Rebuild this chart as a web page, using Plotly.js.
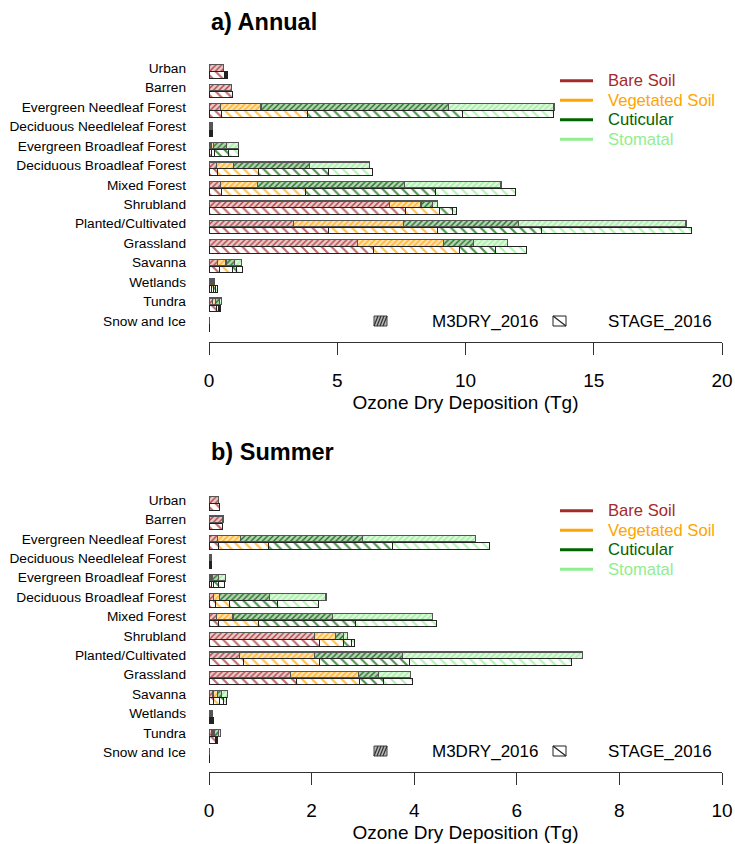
<!DOCTYPE html>
<html>
<head>
<meta charset="utf-8">
<script src="https://cdn.plot.ly/plotly-3.0.1.min.js"></script>
<style>
  body { margin: 0; background: #fff; }
  #chart { width: 735px; height: 844px; }
</style>
</head>
<body>
<div id="chart"></div>
<script>
var categories = ["Urban", "Barren", "Evergreen Needleaf Forest", "Deciduous Needleleaf Forest",
  "Evergreen Broadleaf Forest", "Deciduous Broadleaf Forest", "Mixed Forest", "Shrubland",
  "Planted/Cultivated", "Grassland", "Savanna", "Wetlands", "Tundra", "Snow and Ice"];
var components = ["Bare Soil", "Vegetated Soil", "Cuticular", "Stomatal"];
var models = ["M3DRY_2016", "STAGE_2016"];

// annual, Tg (segment values, in category order)
var annM3dryBare = [0.56, 0.88, 0.46, 0.02, 0.08, 0.29, 0.46, 7.03, 3.30, 5.80, 0.33, 0.06, 0.13, 0.02];
var annM3dryVeg  = [0, 0, 1.57, 0.02, 0.09, 0.66, 1.42, 1.24, 4.28, 3.34, 0.33, 0.06, 0.12, 0];
var annM3dryCut  = [0, 0, 7.30, 0.04, 0.50, 2.97, 5.74, 0.45, 4.48, 1.16, 0.34, 0.04, 0.15, 0];
var annM3dryStom = [0, 0, 4.12, 0.04, 0.47, 2.33, 3.76, 0.19, 6.54, 1.33, 0.27, 0.06, 0.08, 0];
var annStageBare = [0.62, 0.92, 0.47, 0.02, 0.08, 0.34, 0.49, 7.67, 4.67, 6.42, 0.40, 0.08, 0.30, 0.02];
var annStageVeg  = [0.03, 0, 3.38, 0.03, 0.15, 1.58, 3.27, 1.33, 4.23, 3.34, 0.51, 0.10, 0.06, 0];
var annStageCut  = [0.03, 0, 6.03, 0.04, 0.54, 2.73, 5.08, 0.50, 4.06, 1.40, 0.17, 0.06, 0.05, 0];
var annStageStom = [0.03, 0, 3.57, 0.04, 0.37, 1.73, 3.09, 0.13, 5.87, 1.22, 0.21, 0.10, 0.05, 0];

// summer, Tg
var sumM3dryBare = [0.18, 0.27, 0.16, 0.01, 0.04, 0.09, 0.14, 2.05, 0.60, 1.59, 0.08, 0.02, 0.06, 0.01];
var sumM3dryVeg  = [0, 0, 0.45, 0.01, 0.02, 0.12, 0.33, 0.41, 1.45, 1.32, 0.08, 0.02, 0.04, 0];
var sumM3dryCut  = [0, 0, 2.38, 0.01, 0.12, 0.97, 1.94, 0.16, 1.72, 0.39, 0.09, 0.01, 0.08, 0];
var sumM3dryStom = [0, 0, 2.21, 0.01, 0.14, 1.10, 1.94, 0.08, 3.51, 0.63, 0.11, 0.02, 0.05, 0];
var sumStageBare = [0.21, 0.27, 0.18, 0.01, 0.04, 0.12, 0.18, 2.16, 0.67, 1.71, 0.08, 0.03, 0.13, 0.01];
var sumStageVeg  = [0, 0, 0.98, 0.01, 0.04, 0.28, 0.78, 0.46, 1.48, 1.22, 0.13, 0.02, 0.01, 0];
var sumStageCut  = [0, 0, 2.41, 0.01, 0.10, 0.93, 1.89, 0.16, 1.75, 0.48, 0.07, 0.01, 0.01, 0];
var sumStageStom = [0, 0, 1.89, 0.01, 0.12, 0.80, 1.59, 0.05, 3.17, 0.55, 0.06, 0.02, 0.01, 0];

var xTicksA = [0, 5, 10, 15, 20];
var xTicksB = [0, 2, 4, 6, 8, 10];

var W = 735, H = 844;
var FONT = "Liberation Sans, Arial, sans-serif";
var colors = ["#A52A2A", "#FFA500", "#006400", "#90EE90"];
var tints = ["#EBC9C9", "#FFE2B0", "#B9D3B9", "#DDF8DD"];

function px(x) { return x / W; }
function py(y) { return 1 - y / H; }

function rgba(hex, a) {
  var r = parseInt(hex.substr(1, 2), 16), g = parseInt(hex.substr(3, 2), 16), b = parseInt(hex.substr(5, 2), 16);
  return "rgba(" + r + "," + g + "," + b + "," + a + ")";
}

function barTraces(sets, xa, ya) {
  var traces = [];
  sets.forEach(function(set, m) {
    var ys = categories.map(function(c, k) { return m === 0 ? k : k + 0.36; });
    set.forEach(function(vals, c) {
      traces.push({
        type: "bar", orientation: "h",
        x: vals, y: ys, width: 0.34,
        xaxis: xa, yaxis: ya,
        name: models[m] + " " + components[c],
        showlegend: false,
        hovertemplate: models[m] + "<br>" + components[c] + ": %{x} Tg<extra></extra>",
        marker: m === 0 ? {
          color: tints[c],
          line: { color: "#555", width: 1.3 },
          pattern: { shape: "/", fillmode: "replace", bgcolor: tints[c], fgcolor: rgba(colors[c], 0.85), size: 4, solidity: 0.35 }
        } : {
          color: "#fff",
          line: { color: "#222", width: 1 },
          pattern: { shape: "\\", fillmode: "replace", bgcolor: "#fff", fgcolor: rgba(colors[c], 0.7), size: 7, solidity: 0.3 }
        }
      });
    });
  });
  return traces;
}

var data = []
  .concat(barTraces([[annM3dryBare, annM3dryVeg, annM3dryCut, annM3dryStom],
                     [annStageBare, annStageVeg, annStageCut, annStageStom]], "x", "y"))
  .concat(barTraces([[sumM3dryBare, sumM3dryVeg, sumM3dryCut, sumM3dryStom],
                     [sumStageBare, sumStageVeg, sumStageCut, sumStageStom]], "x2", "y2"));

function xAxis(range, ticks, anchor, dom) {
  return {
    domain: dom, anchor: anchor, range: range, tickvals: ticks,
    showgrid: false, zeroline: false, showline: true, linecolor: "#333", linewidth: 1,
    ticks: "outside", ticklen: 12, tickcolor: "#333", tickwidth: 1,
    ticklabelstandoff: 9,
    tickfont: { family: FONT, size: 19, color: "#000" },
    title: { text: "Ozone Dry Deposition (Tg)", font: { family: FONT, size: 19, color: "#000" }, standoff: 6 },
    fixedrange: true
  };
}

function yAxis(range, anchor, dom) {
  return {
    domain: dom, anchor: anchor, range: range,
    tickvals: categories.map(function(c, k) { return k; }), ticktext: categories,
    showgrid: false, zeroline: false, showline: false, ticks: "",
    ticklabelstandoff: 22,
    tickfont: { family: FONT, size: 13.7, color: "#000" },
    fixedrange: true
  };
}

var xDom = [px(209), px(722)];

// legends drawn per panel (shifted by panel offset)
var shapes = [], annotations = [];
function panelDecor(dy, title) {
  annotations.push({ xref: "paper", yref: "paper", x: px(209), y: py(22 + dy), xanchor: "left", yanchor: "middle",
    text: "<b>" + title + "</b>", showarrow: false, font: { family: FONT, size: 23.5, color: "#000" } });
  components.forEach(function(c, i) {
    var yy = 80.7 + i * 19.5 + dy;
    shapes.push({ type: "line", xref: "paper", yref: "paper", x0: px(560), x1: px(593), y0: py(yy), y1: py(yy),
      line: { color: colors[i], width: 3 } });
    annotations.push({ xref: "paper", yref: "paper", x: px(606), y: py(yy), xanchor: "left", yanchor: "middle",
      text: c, showarrow: false, font: { family: FONT, size: 16.6, color: colors[i] } });
  });
  // hatch keys
  var top = 316 + dy, bot = 326 + dy;
  shapes.push({ type: "rect", xref: "paper", yref: "paper", x0: px(374), x1: px(387), y0: py(top), y1: py(bot),
    fillcolor: "#b5b5b5", line: { color: "#444", width: 1 } });
  var p = "";
  [377, 380, 383, 386].forEach(function(x) {
    p += "M" + px(x - 3) + "," + py(bot) + " L" + px(x + 1) + "," + py(top) + " ";
  });
  shapes.push({ type: "path", xref: "paper", yref: "paper", path: p, line: { color: "#333", width: 1.2 } });
  shapes.push({ type: "rect", xref: "paper", yref: "paper", x0: px(553), x1: px(566), y0: py(top), y1: py(bot),
    fillcolor: "#fff", line: { color: "#222", width: 1 } });
  shapes.push({ type: "line", xref: "paper", yref: "paper", x0: px(553), x1: px(566), y0: py(top), y1: py(bot),
    line: { color: "#222", width: 1.2 } });
  annotations.push({ xref: "paper", yref: "paper", x: px(484.5), y: py(321.5 + dy), xanchor: "center", yanchor: "middle",
    text: models[0], showarrow: false, font: { family: FONT, size: 17, color: "#000" } });
  annotations.push({ xref: "paper", yref: "paper", x: px(660), y: py(321.5 + dy), xanchor: "center", yanchor: "middle",
    text: models[1], showarrow: false, font: { family: FONT, size: 17, color: "#000" } });
}
panelDecor(0, "a) Annual");
panelDecor(430, "b) Summer");

var layout = {
  width: W, height: H,
  margin: { l: 0, r: 0, t: 0, b: 0 },
  paper_bgcolor: "#fff", plot_bgcolor: "rgba(0,0,0,0)",
  barmode: "stack", bargap: 0,
  showlegend: false,
  xaxis: xAxis([0, 20], xTicksA, "y", xDom),
  yaxis: yAxis([14.07, -0.67], "x", [py(341.7), py(55)]),
  xaxis2: xAxis([0, 10], xTicksB, "y2", xDom),
  yaxis2: yAxis([14.0, -0.67], "x2", [py(771.7), py(487)]),
  shapes: shapes,
  annotations: annotations
};

Plotly.newPlot("chart", data, layout, { displayModeBar: false, staticPlot: true });
</script>
</body>
</html>
